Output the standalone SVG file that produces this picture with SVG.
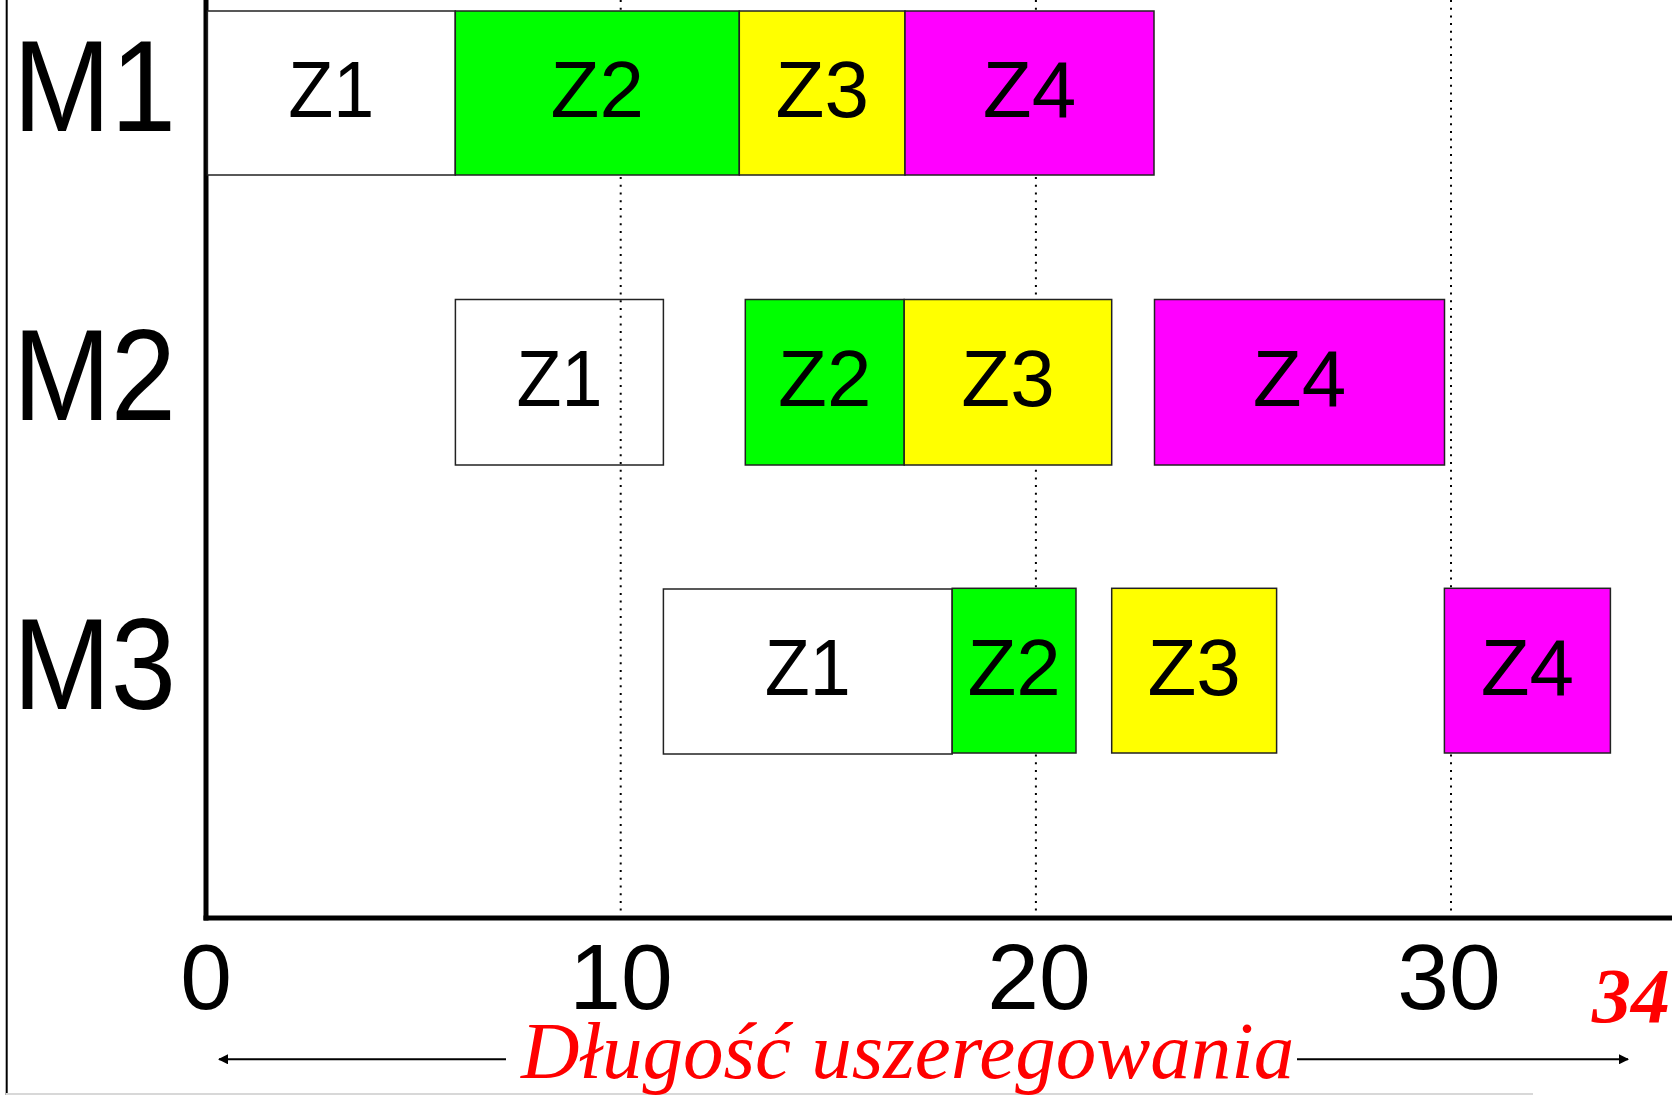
<svg xmlns="http://www.w3.org/2000/svg" width="1672" height="1095" viewBox="0 0 1672 1095">
<style>
.box{stroke:#222;stroke-width:1.5}
.w{fill:#ffffff}
.g{fill:#00ff00}
.y{fill:#ffff00}
.m{fill:#ff00ff}
.zl{font-family:"Liberation Sans",Arial,sans-serif;font-size:80px;fill:#000;text-anchor:middle}
.ml{font-family:"Liberation Sans",Arial,sans-serif;font-size:130px;fill:#000}
.tick{font-family:"Liberation Sans",Arial,sans-serif;font-size:93px;fill:#000;text-anchor:middle}
.grid{stroke:#000;stroke-width:2;stroke-dasharray:2 5.7;fill:none}
.red{font-family:"Liberation Serif","Times New Roman",serif;font-style:italic;fill:#ff0000}
</style>
<defs>
<marker id="ah" markerWidth="10" markerHeight="10" refX="9" refY="5" orient="auto" markerUnits="userSpaceOnUse" viewBox="0 0 10 10">
<path d="M0,0 L10,5 L0,10 z" fill="#000"/>
</marker>
</defs>
<rect width="1672" height="1095" fill="#fff"/>
<!-- frame -->
<line x1="6.7" y1="0" x2="6.7" y2="1095" stroke="#000" stroke-width="2"/>
<line x1="6" y1="1094" x2="1533" y2="1094" stroke="#d8d8d8" stroke-width="2"/>
<!-- grid -->
<g id="grid">
<line class="grid" x1="620.7" y1="0" x2="620.7" y2="916"/>
<line class="grid" x1="1035.9" y1="0" x2="1035.9" y2="916"/>
<line class="grid" x1="1451" y1="0" x2="1451" y2="916"/>
</g>
<!-- axes -->
<g id="axes">
<line x1="206" y1="0" x2="206" y2="920.5" stroke="#000" stroke-width="5"/>
<line x1="203.5" y1="918" x2="1672" y2="918" stroke="#000" stroke-width="5"/>
</g>
<!-- machine labels -->
<text id="M1" class="ml" x="13" y="131" textLength="163" lengthAdjust="spacingAndGlyphs">M1</text>
<text id="M2" class="ml" x="13" y="420" textLength="163" lengthAdjust="spacingAndGlyphs">M2</text>
<text id="M3" class="ml" x="13" y="709" textLength="163" lengthAdjust="spacingAndGlyphs">M3</text>
<!-- M1 row -->
<g id="m1-z1"><rect class="box w" x="207.4" y="11" width="247.9" height="164"/><text class="zl" x="331.3" y="117" textLength="86" lengthAdjust="spacingAndGlyphs">Z1</text></g>
<g id="m1-z2"><rect class="box g" x="455.3" y="11" width="284" height="164"/><text class="zl" x="597.3" y="117">Z2</text></g>
<g id="m1-z3"><rect class="box y" x="739.3" y="11" width="165.7" height="164"/><text class="zl" x="822.2" y="117">Z3</text></g>
<g id="m1-z4"><rect class="box m" x="905" y="11" width="249" height="164"/><text class="zl" x="1029.5" y="117">Z4</text></g>
<!-- M2 row -->
<g id="m2-z1"><rect class="box" fill="none" x="455.4" y="299.5" width="208" height="165.5"/><text class="zl" x="559.4" y="406" textLength="86" lengthAdjust="spacingAndGlyphs">Z1</text></g>
<g id="m2-z2"><rect class="box g" x="745.3" y="299.5" width="158.9" height="165.5"/><text class="zl" x="824.7" y="406">Z2</text></g>
<g id="m2-z3"><rect class="box y" x="904.2" y="299.5" width="207.5" height="165.5"/><text class="zl" x="1008" y="406">Z3</text></g>
<g id="m2-z4"><rect class="box m" x="1154.5" y="299.5" width="290" height="165.5"/><text class="zl" x="1299.5" y="406">Z4</text></g>
<!-- M3 row -->
<g id="m3-z1"><rect class="box w" x="663.4" y="589" width="288.8" height="165"/><text class="zl" x="807.8" y="695" textLength="86" lengthAdjust="spacingAndGlyphs">Z1</text></g>
<g id="m3-z2"><rect class="box g" x="952.2" y="588.3" width="123.8" height="164.7"/><text class="zl" x="1014.1" y="695">Z2</text></g>
<g id="m3-z3"><rect class="box y" x="1111.7" y="588.3" width="164.9" height="164.7"/><text class="zl" x="1194.1" y="695">Z3</text></g>
<g id="m3-z4"><rect class="box m" x="1444.4" y="588.3" width="166" height="164.7"/><text class="zl" x="1527.4" y="695">Z4</text></g>
<!-- tick labels -->
<g id="ticks">
<text class="tick" x="206" y="1009">0</text>
<text class="tick" x="621" y="1009">10</text>
<text class="tick" x="1039" y="1009">20</text>
<text class="tick" x="1449" y="1009">30</text>
</g>
<text id="makespan" class="red" x="1592" y="1022" font-size="78" font-weight="bold">34</text>
<!-- connectors -->
<g id="connectors">
<line x1="506" y1="1059.3" x2="219" y2="1059.3" stroke="#000" stroke-width="2" marker-end="url(#ah)"/>
<line x1="1297" y1="1059.3" x2="1628" y2="1059.3" stroke="#000" stroke-width="2" marker-end="url(#ah)"/>
</g>
<text id="label" class="red" x="521" y="1078" font-size="81">Długość uszeregowania</text>
</svg>
